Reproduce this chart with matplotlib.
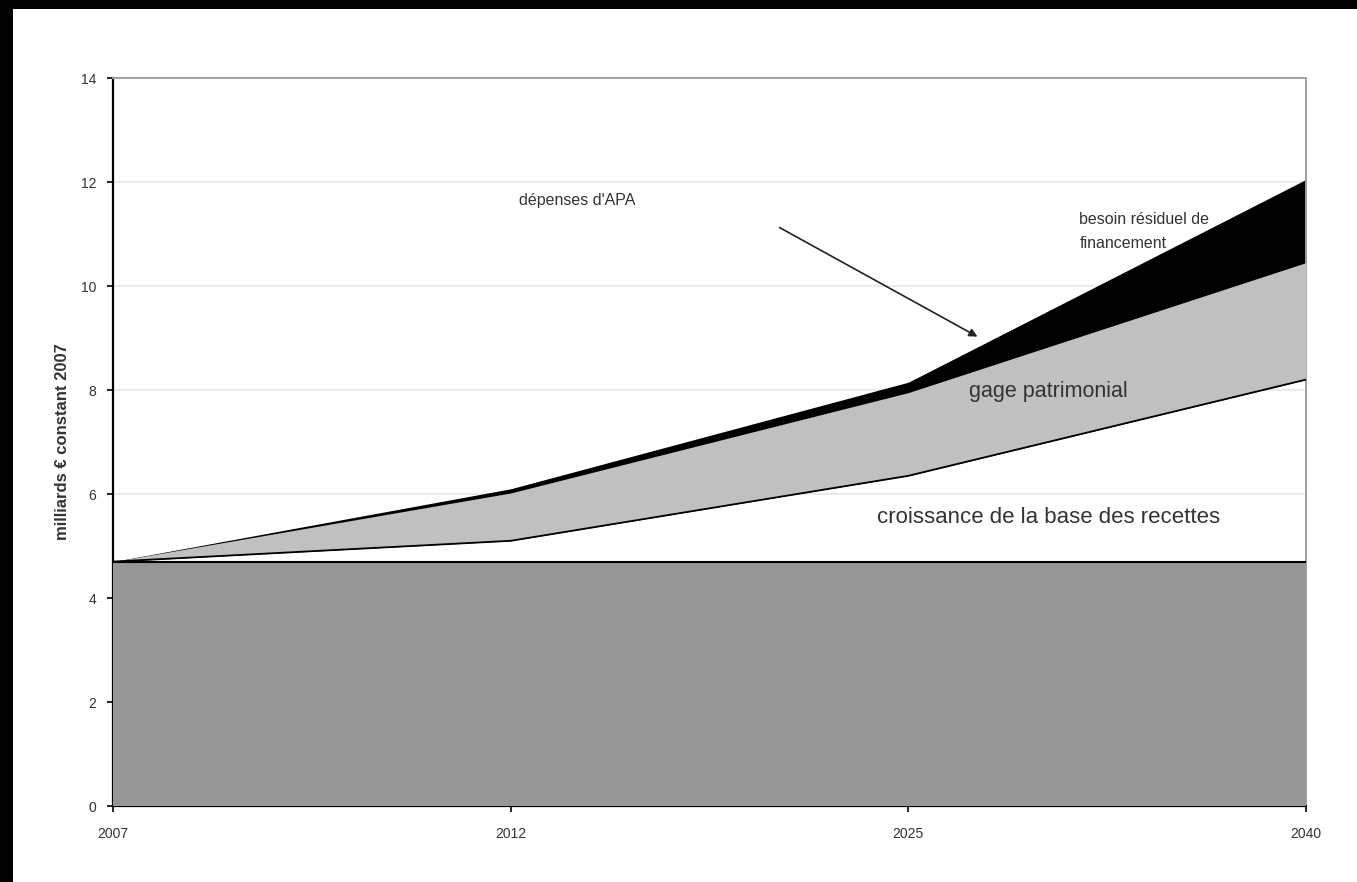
import numpy as np
import matplotlib.pyplot as plt
from matplotlib.patches import Rectangle

plt.rcParams['font.family'] = ['Liberation Sans', 'DejaVu Sans']

years = ['2007', '2012', '2025', '2040']
base_recettes = [4.7, 4.7, 4.7, 4.7]
croissance_top = [4.7, 5.1, 6.35, 8.2]
gage_top = [4.7, 6.02, 7.95, 10.45]
depenses_apa = [4.7, 6.1, 8.15, 12.05]

fig = plt.figure(figsize=(13.57, 8.82), dpi=100)
fig.patch.set_facecolor('black')
# white slide panel
fig.add_artist(Rectangle((13 / 1357, 0), 1 - 13 / 1357, 1 - 9 / 882,
                         transform=fig.transFigure, facecolor='white',
                         edgecolor='none', zorder=0))

ax = fig.add_axes([113 / 1357, 1 - 806 / 882, (1306 - 113) / 1357, (806 - 78) / 882])
ax.set_facecolor('white')
x = np.arange(len(years))

ax.fill_between(x, croissance_top, depenses_apa, color='black', lw=0, zorder=2)
ax.fill_between(x, croissance_top, gage_top, color='#c0c0c0', lw=0, zorder=3)
ax.plot(x, croissance_top, color='black', lw=1.3, zorder=4)
ax.fill_between(x, 0, base_recettes, color='#969696', lw=0, zorder=3)
ax.plot(x, base_recettes, color='black', lw=1.5, zorder=4)

ax.set_xlim(0, 3)
ax.set_ylim(0, 14)
ax.set_yticks(range(0, 15, 2))
ax.set_xticks(x)
ax.set_xticklabels(years)
ax.yaxis.grid(True, color='#e8e8e8', lw=1.2, zorder=1)
ax.set_axisbelow(True)
ax.tick_params(axis='both', labelsize=10, colors='black', labelcolor='#333333',
               direction='out', length=4, width=1.2)
ax.tick_params(axis='x', pad=11)
ax.tick_params(axis='y', pad=8)
ax.spines['left'].set_linewidth(1.6)
ax.spines['bottom'].set_linewidth(1.6)
for s in ['top', 'right']:
    ax.spines[s].set_color('#a0a0a0')
    ax.spines[s].set_linewidth(1.4)

ax.set_ylabel('milliards € constant 2007', fontsize=12, fontweight='bold',
              color='#333333', labelpad=8)

ax.text(1.02, 11.65, "dépenses d'APA", fontsize=11.5, color='#333333', va='center')
ax.annotate('', xy=(2.18, 9.0), xytext=(1.67, 11.15),
            arrowprops=dict(arrowstyle='-|>', color='#222222', lw=1.2,
                            mutation_scale=12))
ax.text(2.43, 11.05, 'besoin résiduel de\nfinancement', fontsize=11.5,
        color='#333333', va='center', linespacing=1.75)
ax.text(2.153, 7.98, 'gage patrimonial', fontsize=15.5, color='#333333', va='center')
ax.text(1.92, 5.55, 'croissance de la base des recettes', fontsize=16,
        color='#333333', va='center')

fig.savefig('out.png', dpi=100, facecolor=fig.get_facecolor())
